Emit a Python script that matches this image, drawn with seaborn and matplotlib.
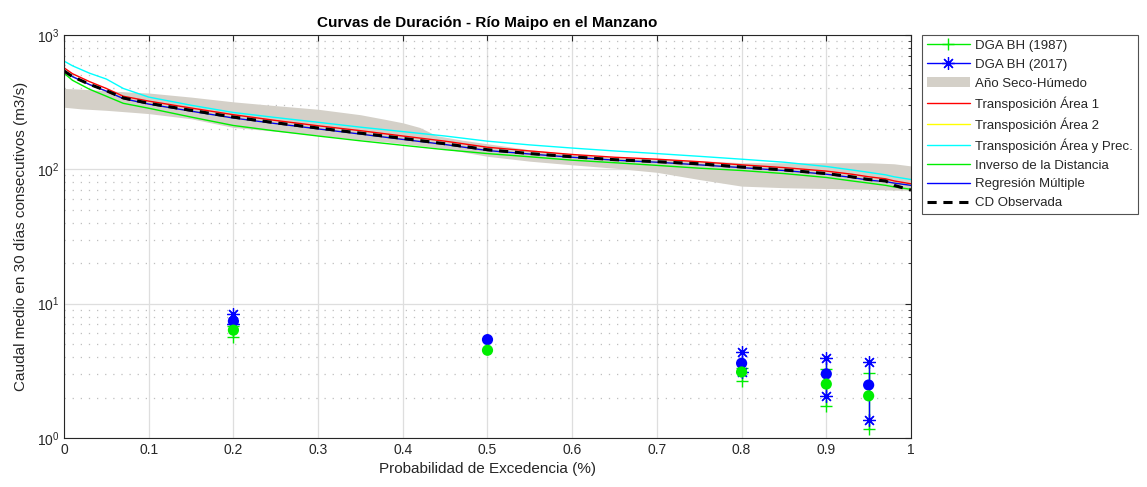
import numpy as np
import pandas as pd
import matplotlib
matplotlib.use("Agg")
import matplotlib.pyplot as plt
import seaborn as sns
from matplotlib.lines import Line2D
from matplotlib.patches import Patch
from matplotlib.ticker import LogLocator, NullFormatter

# ---------------- data ----------------
prob = [0, 0.01, 0.03, 0.05, 0.07, 0.1, 0.15, 0.2, 0.25, 0.3, 0.35, 0.4, 0.45,
        0.5, 0.55, 0.6, 0.65, 0.7, 0.75, 0.8, 0.85, 0.9, 0.93, 0.95, 0.97, 0.98, 1.0]

observada = [540, 490, 430, 385, 340, 310, 275, 245, 222, 203, 186, 170, 155,
             140, 131, 124, 118, 114, 110, 104, 99, 93, 88, 84, 82, 76, 70]
area1 = [570, 515, 450, 400, 350, 322, 286, 255, 231, 211, 194, 177, 162,
         146, 137, 129, 123, 119, 114, 108, 103, 97, 92, 88, 85, 82, 78]
area2 = [545, 490, 428, 382, 336, 306, 271, 241, 219, 200, 183, 167, 153,
         138, 130, 123, 117, 113, 108, 103, 98, 92, 87, 83, 81, 79, 76]
area_prec = [640, 590, 520, 470, 400, 345, 300, 265, 243, 224, 206, 191, 177,
             162, 152, 144, 137, 131, 125, 119, 113, 105, 99, 95, 91, 88, 84]
inverso = [520, 460, 395, 350, 310, 285, 245, 212, 193, 177, 163, 151, 140,
           131, 124, 117, 112, 107, 102, 98, 93, 87, 82, 79, 76, 74, 71]
regresion = [545, 490, 428, 382, 336, 306, 271, 241, 219, 200, 183, 167, 153,
             138, 130, 123, 117, 113, 108, 103, 98, 92, 87, 83, 81, 79, 76]

banda_x = [0, 0.02, 0.05, 0.08, 0.1, 0.15, 0.2, 0.25, 0.3, 0.35, 0.38, 0.4, 0.42,
           0.44, 0.47, 0.5, 0.55, 0.6, 0.65, 0.7, 0.75, 0.8, 0.85, 0.9, 0.95, 0.98, 1.0]
banda_sup = [400, 395, 385, 375, 370, 345, 318, 298, 280, 255, 235, 222, 205,
             178, 165, 155, 140, 130, 123, 120, 116, 112, 112, 112, 112, 110, 106]
banda_inf = [290, 282, 275, 266, 260, 238, 205, 192, 179, 166, 160, 155, 150,
             145, 135, 125, 115, 108, 102, 95, 84, 75, 73, 72, 71, 70, 70]

dga_x = [0.2, 0.5, 0.8, 0.9, 0.95]
dga1987_mid = [6.35, 4.5, 3.1, 2.52, 2.06]
dga1987_hi = [6.8, np.nan, 3.3, 3.26, 3.06]
dga1987_lo = [5.6, np.nan, 2.65, 1.73, 1.16]
dga2017_mid = [7.4, 5.4, 3.6, 3.0, 2.48]
dga2017_hi = [8.4, np.nan, 4.35, 3.95, 3.66]
dga2017_lo = [7.1, np.nan, 3.1, 2.06, 1.37]

xtick_vals = [0, 0.1, 0.2, 0.3, 0.4, 0.5, 0.6, 0.7, 0.8, 0.9, 1.0]
xtick_labels = ["0", "0.1", "0.2", "0.3", "0.4", "0.5", "0.6", "0.7", "0.8", "0.9", "1"]

title = "Curvas de Duración - Río Maipo en el Manzano"
xlabel = "Probabilidad de Excedencia (%)"
ylabel = "Caudal medio en 30 días consecutivos (m3/s)"

# ---------------- style ----------------
sns.set_style("white")
plt.rcParams["font.family"] = ["Liberation Sans", "DejaVu Sans"]

fig = plt.figure(figsize=(11.47, 4.87), dpi=100)
ax = fig.add_axes([64 / 1147, 1 - 438 / 487, (911 - 64) / 1147, (438 - 35) / 487])

GREEN = "#00ee00"
BLUE = "#0000ff"
BAND = "#d4d0c8"

# DGA vertical ranges
for x, lo, hi in zip(dga_x, dga1987_lo, dga1987_hi):
    ax.plot([x, x], [lo, hi], color=GREEN, lw=1.0, marker="+", ms=9, mew=1.0, zorder=3)
for x, lo, hi in zip(dga_x, dga2017_lo, dga2017_hi):
    ax.plot([x, x], [lo, hi], color=BLUE, lw=1.0, marker=(8, 2, 0), ms=9, mew=0.9, zorder=3)

# band
ax.fill_between(banda_x, banda_inf, banda_sup, color=BAND, lw=0, zorder=1)

df = pd.DataFrame({"p": prob, "a1": area1, "a2": area2, "ap": area_prec,
                   "inv": inverso, "reg": regresion, "obs": observada})
lw = 1.0
sns.lineplot(data=df, x="p", y="a1", ax=ax, color="#ff0000", lw=lw, zorder=2, estimator=None, sort=False)
sns.lineplot(data=df, x="p", y="a2", ax=ax, color="#ffff00", lw=lw, zorder=2, estimator=None, sort=False)
sns.lineplot(data=df, x="p", y="ap", ax=ax, color="#00ffff", lw=lw, zorder=2, estimator=None, sort=False)
sns.lineplot(data=df, x="p", y="inv", ax=ax, color=GREEN, lw=lw, zorder=2, estimator=None, sort=False)
sns.lineplot(data=df, x="p", y="reg", ax=ax, color=BLUE, lw=lw, zorder=2, estimator=None, sort=False)
sns.lineplot(data=df, x="p", y="obs", ax=ax, color="black", lw=2.2, zorder=2,
             estimator=None, sort=False, linestyle=(0, (3, 2.2)))

# dots
sns.scatterplot(x=dga_x, y=dga2017_mid, ax=ax, color=BLUE, s=65, edgecolor="none", zorder=4)
sns.scatterplot(x=dga_x, y=dga1987_mid, ax=ax, color=GREEN, s=65, edgecolor="none", zorder=4)

# axes
ax.set_yscale("log")
ax.set_xlim(0, 1)
ax.set_ylim(1, 1000)
ax.set_xticks(xtick_vals)
ax.set_xticklabels(xtick_labels)
ax.yaxis.set_major_locator(LogLocator(base=10, numticks=10))
ax.yaxis.set_minor_locator(LogLocator(base=10, subs=np.arange(2, 10), numticks=100))
ax.yaxis.set_minor_formatter(NullFormatter())

ax.grid(True, which="major", axis="both", color="#dedede", lw=0.9, zorder=0)
ax.grid(True, which="minor", axis="y", color="#bfbfbf", lw=0.9, ls=(0, (1, 5.5)), zorder=0)
ax.set_axisbelow(True)

for s in ax.spines.values():
    s.set_visible(True)
    s.set_color("#262626")
    s.set_linewidth(0.8)
ax.tick_params(which="both", direction="in", top=True, right=True, colors="#262626",
               labelsize=10, labelcolor="#262626")
ax.tick_params(which="major", length=4)
ax.tick_params(which="minor", length=2)

ax.set_title(title, fontsize=11, fontweight="bold", color="black", pad=6)
ax.set_xlabel(xlabel, fontsize=11, color="#262626", labelpad=4)
ax.set_ylabel(ylabel, fontsize=11, color="#262626", labelpad=6)

handles = [
    Line2D([0, 0.5, 1], [0, 0, 0], color=GREEN, lw=1.0, marker="+", ms=9, markevery=[1], mew=1.0),
    Line2D([0, 0.5, 1], [0, 0, 0], color=BLUE, lw=1.0, marker=(8, 2, 0), ms=9, markevery=[1], mew=0.9),
    Patch(facecolor=BAND, edgecolor="none"),
    Line2D([], [], color="#ff0000", lw=lw),
    Line2D([], [], color="#ffff00", lw=lw),
    Line2D([], [], color="#00ffff", lw=lw),
    Line2D([], [], color=GREEN, lw=lw),
    Line2D([], [], color=BLUE, lw=lw),
    Line2D([], [], color="black", lw=2.2, ls=(0, (3, 2.2))),
]
labels = ["DGA BH (1987)", "DGA BH (2017)", "Año Seco-Húmedo", "Transposición Área 1",
          "Transposición Área 2", "Transposición Área y Prec.", "Inverso de la Distancia",
          "Regresión Múltiple", "CD Observada"]
leg = ax.legend(handles, labels, loc="upper left", bbox_to_anchor=(1.013, 1.0),
                fontsize=9.5, frameon=True, fancybox=False, edgecolor="#262626",
                borderaxespad=0, handlelength=3.3, handletextpad=0.4, labelspacing=0.5,
                borderpad=0.35)
leg.get_frame().set_linewidth(0.8)

fig.savefig("out.png", dpi=100, facecolor="white")
